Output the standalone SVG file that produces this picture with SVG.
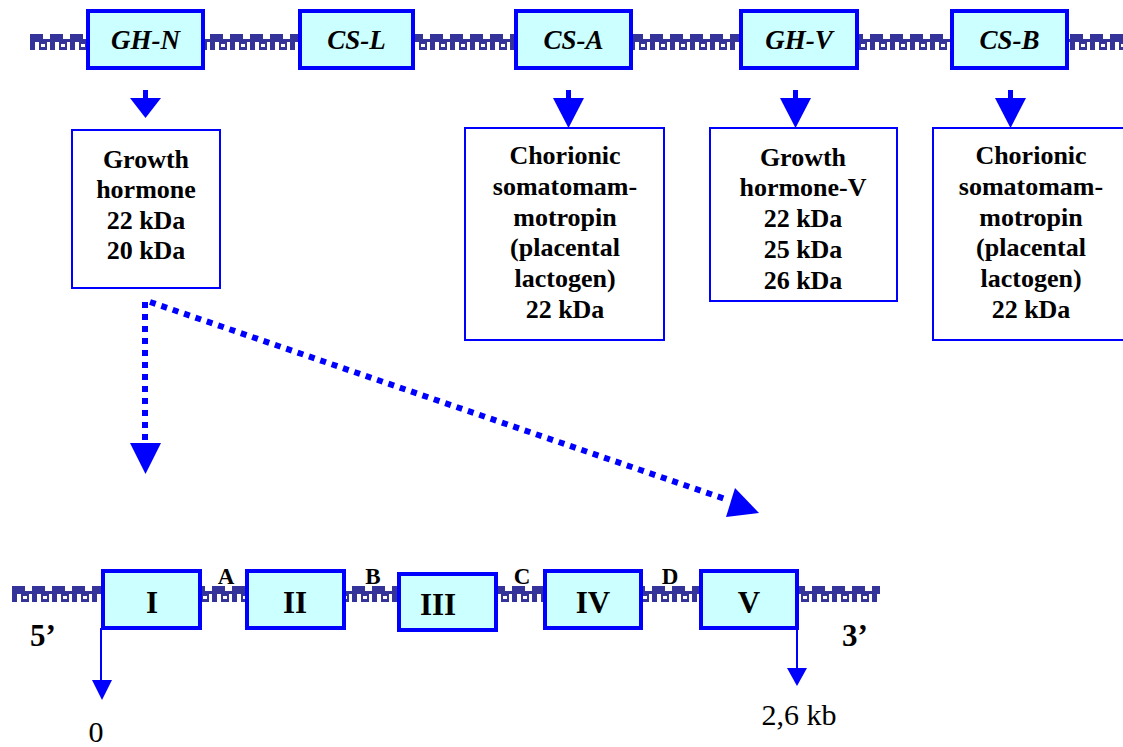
<svg xmlns="http://www.w3.org/2000/svg" width="1123" height="747" viewBox="0 0 1123 747">
<style>
.gene{fill:#CCFFFF;stroke:#0000FF;stroke-width:4}
.info{fill:#FFFFFF;stroke:#0000FF;stroke-width:2}
text{font-family:'Times New Roman','Liberation Serif','DejaVu Serif',serif;fill:#000;text-anchor:middle}
.gl{font-weight:bold;font-style:italic;font-size:27px}
.tx{font-weight:bold;font-size:26px}
.ex{font-weight:bold;font-size:31px}
.lt{font-weight:bold;font-size:23px}
.pl{font-size:30px}
.dot{fill:none;stroke:#0000FF;stroke-width:6;stroke-dasharray:6 6}
.ar{fill:#0000FF}
</style>
<defs>
<g id="tile" fill="#333399">
<rect x="0" y="0" width="13" height="5"/>
<rect x="0" y="5" width="20" height="3"/>
<rect x="0" y="8" width="5" height="8"/>
<rect x="9" y="8" width="8" height="8"/>
<rect x="11" y="10" width="4" height="3" fill="#FFFFFF"/>
</g>
<pattern id="chainTop" patternUnits="userSpaceOnUse" x="30" y="34" width="20" height="16"><use href="#tile"/></pattern>
<pattern id="chainBot" patternUnits="userSpaceOnUse" x="12" y="586" width="20" height="16"><use href="#tile"/></pattern>
</defs>
<rect width="1123" height="747" fill="#FFFFFF"/>
<g id="chains">
<rect x="30" y="34" width="1093" height="16" fill="url(#chainTop)"/>
<rect x="12" y="586" width="868" height="16" fill="url(#chainBot)"/>
</g>
<g id="connectors">
<g class="ar">
<rect x="143" y="90" width="5" height="10"/><polygon points="130,98 161,98 145.5,118"/>
<rect x="566" y="90" width="5" height="10"/><polygon points="553,98 584,98 568.5,128"/>
<rect x="793" y="90" width="5" height="10"/><polygon points="780,98 811,98 795.5,128"/>
<rect x="1008" y="90" width="5" height="10"/><polygon points="995,98 1026,98 1010.5,128"/>
</g>
<path class="dot" d="M145,302 V440"/>
<polygon class="ar" points="130,443 161,443 145.5,474"/>
<path class="dot" d="M150,302 L728,500"/>
<polygon class="ar" points="726,517 735,488 759,513"/>
<path d="M101,628 V683" stroke="#0000FF" stroke-width="2"/>
<polygon class="ar" points="92,680 112,680 102,700"/>
<path d="M797,628 V670" stroke="#0000FF" stroke-width="2"/>
<polygon class="ar" points="787,668 807,668 797,686"/>
</g>
<g id="GH-N"><rect class="gene" x="88" y="11" width="115" height="57"/><text class="gl" x="145.5" y="49">GH-N</text></g>
<g id="CS-L"><rect class="gene" x="300" y="11" width="113" height="57"/><text class="gl" x="356.5" y="49">CS-L</text></g>
<g id="CS-A"><rect class="gene" x="516" y="11" width="115" height="57"/><text class="gl" x="573.5" y="49">CS-A</text></g>
<g id="GH-V"><rect class="gene" x="741" y="11" width="116" height="57"/><text class="gl" x="799" y="49">GH-V</text></g>
<g id="CS-B"><rect class="gene" x="952" y="11" width="115" height="57"/><text class="gl" x="1009.5" y="49">CS-B</text></g>
<g id="info-GH-N"><rect class="info" x="72" y="130" width="148" height="158"/>
<text class="tx" x="146" y="168">Growth</text><text class="tx" x="146" y="198">hormone</text><text class="tx" x="146" y="229">22 kDa</text><text class="tx" x="146" y="259">20 kDa</text></g>
<g id="info-CS-A"><rect class="info" x="465" y="128" width="199" height="212"/>
<text class="tx" x="565" y="164">Chorionic</text><text class="tx" x="565" y="195">somatomam-</text><text class="tx" x="565" y="226">motropin</text><text class="tx" x="565" y="256">(placental</text><text class="tx" x="565" y="287">lactogen)</text><text class="tx" x="565" y="318">22 kDa</text></g>
<g id="info-GH-V"><rect class="info" x="710" y="128" width="187" height="173"/>
<text class="tx" x="803" y="166">Growth</text><text class="tx" x="803" y="196">hormone-V</text><text class="tx" x="803" y="227">22 kDa</text><text class="tx" x="803" y="258">25 kDa</text><text class="tx" x="803" y="289">26 kDa</text></g>
<g id="info-CS-B"><rect class="info" x="933" y="128" width="199" height="212"/>
<text class="tx" x="1031" y="164">Chorionic</text><text class="tx" x="1031" y="195">somatomam-</text><text class="tx" x="1031" y="226">motropin</text><text class="tx" x="1031" y="256">(placental</text><text class="tx" x="1031" y="287">lactogen)</text><text class="tx" x="1031" y="318">22 kDa</text></g>
<g id="exon-I"><rect class="gene" x="103" y="571" width="97" height="57"/><text class="ex" x="152" y="613">I</text></g>
<g id="exon-II"><rect class="gene" x="247" y="571" width="97" height="57"/><text class="ex" x="295" y="613">II</text></g>
<g id="exon-III"><rect class="gene" x="399" y="574" width="97" height="56"/><text class="ex" x="438" y="615">III</text></g>
<g id="exon-IV"><rect class="gene" x="545" y="571" width="96" height="57"/><text class="ex" x="593" y="613">IV</text></g>
<g id="exon-V"><rect class="gene" x="701" y="571" width="96" height="57"/><text class="ex" x="749" y="613">V</text></g>
<g id="labels">
<text class="lt" x="226" y="584">A</text><text class="lt" x="373" y="584">B</text><text class="lt" x="522" y="584">C</text><text class="lt" x="670" y="584">D</text>
<text class="ex" x="43" y="646">5’</text><text class="ex" x="855" y="646">3’</text>
<text class="pl" x="96" y="742">0</text><text class="pl" x="799" y="725">2,6 kb</text>
</g>
</svg>
